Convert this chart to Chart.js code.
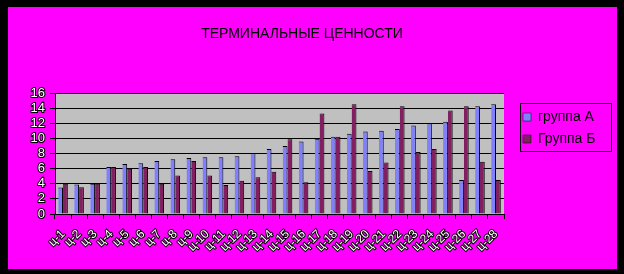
<!DOCTYPE html>
<html>
<head>
<meta charset="utf-8">
<script src="https://cdn.jsdelivr.net/npm/chart.js@4"></script>
<style>
  html, body { margin: 0; padding: 0; background: #000; }
  #box { position: absolute; left: 8px; top: 7px; width: 609px; height: 262px; background: #ff00ff; }
</style>
</head>
<body>
<div id="box"><canvas id="chart"></canvas></div>
<script>
// Terminal values chart, two groups
const categories = ['ц-1', 'ц-2', 'ц-3', 'ц-4', 'ц-5', 'ц-6', 'ц-7', 'ц-8', 'ц-9', 'ц-10',
    'ц-11', 'ц-12', 'ц-13', 'ц-14', 'ц-15', 'ц-16', 'ц-17', 'ц-18', 'ц-19', 'ц-20',
    'ц-21', 'ц-22', 'ц-23', 'ц-24', 'ц-25', 'ц-26', 'ц-27', 'ц-28'];
const groupA = [3.5, 3.9, 4.0, 6.2, 6.6, 6.7, 7.0, 7.25, 7.4, 7.5, 7.5, 7.65, 8.05, 8.6,
    9.0, 9.6, 9.95, 10.2, 10.6, 10.9, 11.0, 11.25, 11.7, 12.0, 12.2, 4.5, 14.25, 14.5];
const groupB = [4.0, 3.55, 4.0, 6.2, 6.0, 6.2, 4.0, 5.1, 7.0, 5.1, 3.85, 4.4, 4.85, 5.6,
    9.9, 4.2, 13.3, 10.2, 14.5, 5.7, 6.8, 14.25, 8.2, 8.6, 13.7, 14.25, 6.9, 4.5];
const seriesNames = ['группа А', 'Группа Б'];
const yTicks = [0, 2, 4, 6, 8, 10, 12, 14, 16];

const FONT = "'Liberation Sans', Arial, sans-serif";
const legendFrame = { x: 512, y: 96, w: 91, h: 48 };

// gray plot background, title/legend placement, legend frame
const plotDecor = {
    id: 'plotDecor',
    beforeDraw: function(chart) {
        const a = chart.chartArea;
        const ctx = chart.ctx;
        ctx.save();
        ctx.fillStyle = '#c0c0c0';
        ctx.fillRect(a.left, a.top, a.right - a.left, a.bottom - a.top);
        ctx.restore();
    },
    afterLayout: function(chart) {
        const t = chart.titleBlock;
        t.left = 0;
        t.right = 588;
        // move the legend out to the right, inside its frame
        const lg = chart.legend;
        lg.left = legendFrame.x - 5;
        lg.top = legendFrame.y - 1;
        lg.right = lg.left + legendFrame.w;
        lg.bottom = lg.top + 200;
    },
    afterDraw: function(chart) {
        const ctx = chart.ctx;
        ctx.save();
        ctx.strokeStyle = '#000';
        ctx.lineWidth = 1;
        ctx.strokeRect(legendFrame.x + 0.5, legendFrame.y + 0.5, legendFrame.w, legendFrame.h);
        ctx.restore();
    }
};

new Chart(document.getElementById('chart'), {
    type: 'bar',
    data: {
        labels: categories,
        datasets: [{
            label: seriesNames[0],
            data: groupA,
            backgroundColor: '#8080ff',
            borderColor: '#000',
            borderWidth: { top: 1, right: 1, left: 0, bottom: 0 },
            borderSkipped: false
        }, {
            label: seriesNames[1],
            data: groupB,
            backgroundColor: '#802060',
            borderColor: '#000',
            borderWidth: { top: 1, right: 1, left: 0, bottom: 0 },
            borderSkipped: false
        }]
    },
    options: {
        responsive: true,
        maintainAspectRatio: false,
        animation: false,
        layout: { padding: { right: 113 } },
        datasets: { bar: { categoryPercentage: 0.6, barPercentage: 1 } },
        plugins: {
            title: {
                display: true,
                text: 'ТЕРМИНАЛЬНЫЕ ЦЕННОСТИ',
                color: '#000',
                font: { family: FONT, size: 14, weight: 'normal' },
                padding: { top: 18.6, bottom: 50.6 }
            },
            legend: {
                position: 'chartArea',
                align: 'start',
                labels: {
                    color: '#000',
                    boxWidth: 8,
                    boxHeight: 8,
                    padding: 8,
                    font: { family: FONT, size: 14 }
                }
            },
            tooltip: { enabled: false }
        },
        scales: {
            x: {
                afterFit: s => { s.height = 55; },
                grid: { display: true, drawOnChartArea: false, color: '#000', tickLength: 5, offset: true },
                border: { color: '#000', width: 1 },
                ticks: {
                    autoSkip: false,
                    maxRotation: 45,
                    minRotation: 45,
                    padding: 8,
                    color: '#fff',
                    textStrokeColor: '#000',
                    textStrokeWidth: 2,
                    font: { family: FONT, size: 12 }
                }
            },
            y: {
                min: yTicks[0],
                max: yTicks[yTicks.length - 1],
                afterFit: s => { s.width = 47; },
                grid: { color: '#000', tickLength: 5 },
                border: { color: '#000', width: 1 },
                ticks: {
                    stepSize: yTicks[1] - yTicks[0],
                    autoSkip: false,
                    padding: 5,
                    color: '#fff',
                    textStrokeColor: '#000',
                    textStrokeWidth: 2,
                    font: { family: FONT, size: 13 }
                }
            }
        }
    },
    plugins: [plotDecor]
});
</script>
</body>
</html>
